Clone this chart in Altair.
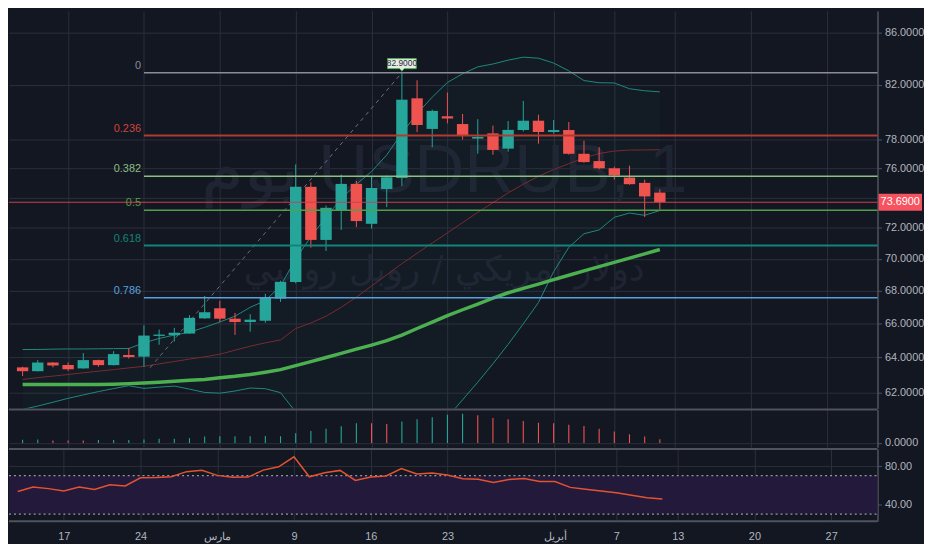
import altair as alt
import pandas as pd

# ---------------- data ----------------
idx = list(range(43))
opens = [63.42, 63.20, 63.70, 63.55, 63.36, 63.84, 63.55, 64.14, 64.04, 65.26, 65.30, 65.40, 66.31, 66.92, 66.29,
         66.09, 66.17, 67.51, 68.53, 74.73, 71.21, 73.16, 74.93, 72.26, 74.58, 75.33, 80.99, 78.77, 79.68, 79.12,
         78.08, 78.45, 77.37, 78.69, 79.36, 78.55, 78.69, 77.01, 76.50, 76.00, 75.36, 75.00, 74.34]
closes = [63.20, 63.70, 63.53, 63.31, 63.84, 63.55, 64.19, 64.02, 65.28, 65.34, 65.45, 66.34, 66.68, 66.29, 66.09,
          66.23, 67.57, 68.55, 74.73, 71.21, 73.32, 74.93, 72.44, 74.65, 75.38, 80.89, 79.05, 80.07, 79.52, 78.31,
          78.20, 77.28, 78.70, 79.36, 78.55, 78.69, 77.01, 76.43, 76.00, 75.51, 74.91, 74.08, 73.69]
highs = [63.46, 63.84, 63.72, 63.70, 64.25, 63.86, 64.36, 64.55, 65.90, 65.64, 65.74, 66.50, 67.67, 67.37, 66.64,
         66.56, 67.81, 68.62, 76.27, 75.04, 73.47, 75.56, 75.13, 75.44, 75.49, 82.90, 82.33, 80.16, 81.42, 79.85,
         79.47, 79.01, 79.33, 80.80, 79.80, 79.41, 79.27, 77.93, 77.47, 76.11, 76.18, 75.22, 74.56]
lows = [62.92, 63.18, 63.42, 63.22, 63.34, 63.46, 63.53, 63.93, 63.46, 64.74, 64.93, 65.38, 66.28, 66.09, 65.32,
        65.51, 66.05, 67.31, 68.45, 70.71, 70.50, 71.86, 72.05, 71.95, 73.36, 74.78, 78.54, 77.47, 79.17, 78.01,
        77.01, 76.94, 77.15, 78.59, 77.72, 78.44, 76.95, 76.38, 75.93, 75.22, 74.87, 72.71, 73.21]

ma_slow = [62.44, 62.44, 62.44, 62.44, 62.44, 62.44, 62.46, 62.49, 62.53, 62.57, 62.62, 62.68, 62.73, 62.83, 62.91,
           63.01, 63.14, 63.29, 63.52, 63.75, 63.99, 64.23, 64.48, 64.72, 64.98, 65.31, 65.70, 66.08, 66.47, 66.83,
           67.18, 67.54, 67.87, 68.14, 68.41, 68.69, 68.96, 69.23, 69.50, 69.77, 70.04, 70.31, 70.59]
bb_mid = [62.73, 62.83, 62.92, 63.01, 63.11, 63.20, 63.29, 63.39, 63.48, 63.62, 63.76, 63.90, 64.03, 64.18, 64.42,
          64.65, 64.85, 65.02, 65.70, 66.03, 66.44, 66.98, 67.60, 68.29, 68.99, 69.69, 70.35, 71.01, 71.67, 72.34,
          73.02, 73.66, 74.32, 74.91, 75.45, 75.91, 76.32, 76.72, 77.03, 77.20, 77.27, 77.28, 77.29]
bb_upper = [64.46, 64.46, 64.48, 64.49, 64.49, 64.50, 64.51, 64.52, 64.85, 65.11, 65.31, 65.48, 65.77, 66.09, 66.44,
            66.98, 67.39, 68.29, 69.98, 71.42, 72.69, 73.92, 74.91, 75.78, 76.93, 78.47, 79.87, 81.08, 82.17, 82.82,
            83.34, 83.56, 83.85, 84.08, 84.00, 83.63, 83.04, 82.31, 82.15, 82.13, 81.70, 81.55, 81.47]
bb_lower = [61.04, 61.23, 61.44, 61.66, 61.85, 62.04, 62.21, 62.37, 62.22, 62.29, 62.35, 62.18, 61.99, 61.95, 62.07,
            62.24, 62.20, 61.98, 60.90, 60.00, 59.40, 59.00, 58.80, 58.70, 58.80, 59.00, 59.40, 60.00, 60.60, 61.58,
            62.57, 63.63, 64.76, 65.98, 67.27, 69.18, 70.73, 71.61, 71.86, 72.69, 72.97, 72.82, 73.14]

hist_vals = [3.3, 3.7, 2.7, 2.7, 2.7, 3.0, 3.0, 3.0, 3.7, 4.3, 4.3, 5.0, 6.7, 7.0, 7.0, 7.0, 7.2, 7.0, 10.0, 12.4,
             14.7, 17.4, 20.4, 20.4, 19.7, 22.4, 24.7, 26.7, 29.4, 30.4, 28.7, 26.0, 24.7, 22.7, 21.0, 20.4, 19.0,
             17.7, 14.7, 12.0, 9.0, 6.7, 4.0]
hist_dir = ["up", "up", "down", "down", "down"] + ["up"] * 18 + ["down", "down"] + ["up"] * 5 + ["down"] * 13

rsi_vals = [53.5, 58.1, 56.5, 54.1, 58.1, 55.5, 60.5, 59.3, 67.8, 68.1, 68.8, 74.2, 75.6, 70.3, 68.3, 68.5, 75.8,
            79.3, 89.7, 68.8, 73.1, 75.5, 65.0, 68.7, 69.7, 77.5, 71.7, 72.8, 70.7, 66.7, 66.3, 62.9, 66.0, 67.0,
            63.9, 63.9, 57.8, 55.8, 54.1, 52.1, 49.7, 47.0, 45.6]

fib_levels = ["0", "0.236", "0.382", "0.5", "0.618", "0.786"]
fib_prices = [82.90, 78.30, 75.45, 73.15, 70.85, 67.57]
fib_colors = ["#8c8c96", "#b23a30", "#8cbf84", "#4fa04a", "#138478", "#5aa0dc"]
fib_label_colors = ["#8c8c96", "#d0453a", "#8cbf84", "#4fa04a", "#138478", "#5aa0dc"]
fib_widths = [1.5, 2, 1.5, 1.5, 2, 1.5]
fib_start = 8

trend_i = [8.4, 25]
trend_p = [63.4, 82.9]

last_price = 73.69
peak_i = 25
peak_price = 82.90

tick_pos = [3, 8, 13, 18, 23, 28, 35, 39, 43, 48, 53]
tick_text = ["17", "24", "مارس", "9", "16", "23", "أبريل", "7", "13", "20", "27"]
price_ticks = [62, 64, 66, 68, 70, 72, 74, 76, 78, 82, 86]

watermark_1 = "يوم USDRUB, 1"
watermark_2 = "دولار أمريكي / روبل روسي"

# ---------------- style ----------------
W = 878
HP, HV, HR = 402, 38, 73
BG = "#131722"
GRID = "#2c303c"
SEP = "#50535e"
TXT = "#b2b5be"
UP = "#26a69a"
DN = "#ef5350"
FONT = "Liberation Sans"

xscale = alt.Scale(domain=[-0.57, 56.02], nice=False, zero=False)
labels_js = "[" + ",".join("'" + t + "'" for t in tick_text) + "]"
pos_js = "[" + ",".join(str(p) for p in tick_pos) + "]"
x_hidden = alt.Axis(values=tick_pos, labels=False, ticks=False, domain=False, grid=True,
                    gridColor=GRID, title=None)
x_bottom = alt.Axis(values=tick_pos, labelExpr=labels_js + "[indexof(" + pos_js + ", datum.value)]",
                    ticks=False, domain=False, grid=True, gridColor=GRID, title=None,
                    labelColor=TXT, labelFontSize=11, labelFont=FONT, labelPadding=9,
                    labelFlush=False, labelOverlap=False)

pscale = alt.Scale(type="log", domain=[61.09, 87.69], nice=False)
p_axis = alt.Axis(orient="right", values=price_ticks,
                  labelExpr="datum.value == 74 ? '' : format(datum.value, '.4f')",
                  grid=True, gridColor=GRID, domain=True, domainColor=SEP, domainWidth=1.5,
                  tickColor=SEP, tickSize=4, labelPadding=3, labelColor=TXT, labelFontSize=11,
                  labelFont=FONT, title=None, labelOverlap=False)


def X(field, axis=x_hidden):
    return alt.X(field, type="quantitative", scale=xscale, axis=axis)


def PY(field):
    return alt.Y(field, type="quantitative", scale=pscale, axis=p_axis)


candles = pd.DataFrame({"i": idx, "o": opens, "c": closes, "h": highs, "l": lows})
candles["dir"] = ["up" if c >= o else "down" for o, c in zip(opens, closes)]
ind = pd.DataFrame({"i": idx, "ma": ma_slow, "mid": bb_mid, "up": bb_upper, "lo": bb_lower})
fib = pd.DataFrame({"lvl": fib_levels, "p": fib_prices, "col": fib_colors, "lcol": fib_label_colors,
                    "w": fib_widths, "start": [fib_start] * len(fib_levels)})
trend = pd.DataFrame({"i": trend_i, "p": trend_p})
last = pd.DataFrame({"p": [last_price], "t": [format(last_price, ".4f")]})
peak = pd.DataFrame({"i": [peak_i], "p": [peak_price], "t": [format(peak_price, ".4f")]})
wm = pd.DataFrame({"t1": [watermark_1], "t2": [watermark_2]})
dircol = alt.Scale(domain=["up", "down"], range=[UP, DN])

# ---------------- price panel ----------------
wm1 = alt.Chart(wm).mark_text(fontSize=70, font=FONT, color="#1f2432", align="center",
                              baseline="middle").encode(x=alt.value(440), y=alt.value(162), text="t1:N")
wm2 = alt.Chart(wm).mark_text(fontSize=36, font="DejaVu Sans", color="#1f2432", align="center",
                              baseline="middle").encode(x=alt.value(440), y=alt.value(262), text="t2:N")

band = alt.Chart(ind).mark_area(color=UP, opacity=0.03, clip=True).encode(
    x=X("i"), y=PY("up"), y2="lo")
upper = alt.Chart(ind).mark_line(color="#1f8a80", strokeWidth=1, clip=True).encode(x=X("i"), y=PY("up"))
lower = alt.Chart(ind).mark_line(color="#1f8a80", strokeWidth=1, clip=True).encode(x=X("i"), y=PY("lo"))
mid = alt.Chart(ind).mark_line(color="#7a2c30", strokeWidth=1, clip=True).encode(x=X("i"), y=PY("mid"))
ma = alt.Chart(ind).mark_line(color="#4caf50", strokeWidth=3.5, clip=True).encode(x=X("i"), y=PY("ma"))

wicks = alt.Chart(candles).mark_rule(strokeWidth=1).encode(
    x=X("i"), y=PY("l"), y2="h", color=alt.Color("dir:N", scale=dircol, legend=None))
bodies = alt.Chart(candles).mark_bar(width=11.5).encode(
    x=X("i"), y=PY("o"), y2="c", color=alt.Color("dir:N", scale=dircol, legend=None))

trend_line = alt.Chart(trend).mark_line(color="#6b6e78", strokeWidth=1, strokeDash=[4, 4]).encode(
    x=X("i"), y=PY("p"))

fib_rules = alt.Chart(fib).mark_rule().encode(
    x=X("start"), x2=alt.value(W), y=PY("p"),
    color=alt.Color("col:N", scale=None), strokeWidth=alt.StrokeWidth("w:Q", scale=None))
fib_text = alt.Chart(fib).mark_text(align="right", baseline="bottom", dx=-3, dy=-2, fontSize=11,
                                    font=FONT).encode(
    x=X("start"), y=PY("p"), text="lvl:N", color=alt.Color("lcol:N", scale=None))

price_line = alt.Chart(last).mark_rule(color="#c8424a", strokeWidth=1).encode(
    x=alt.value(0), x2=alt.value(W), y=PY("p"))
tag_box = alt.Chart(last).mark_point(shape="M-1,-0.386L1,-0.386L1,0.386L-1,0.386Z", size=1936, filled=True,
                                     color="#f7525f", opacity=1).encode(x=alt.value(W + 23), y=PY("p"))
tag_txt = alt.Chart(last).mark_text(color="white", fontSize=11, font=FONT, align="center",
                                    baseline="middle").encode(x=alt.value(W + 23), y=PY("p"), text="t:N")

peak_box = alt.Chart(peak).mark_point(
    shape="M-1,-0.5L1,-0.5L1,0.2L0.15,0.2L0,0.38L-0.15,0.2L-1,0.2Z", size=841, filled=True,
    fill="#e6ebe4", stroke="#4caf50", strokeWidth=1, opacity=1, yOffset=-7).encode(x=X("i"), y=PY("p"))
peak_txt = alt.Chart(peak).mark_text(fontSize=8.5, font=FONT, color="#2a2e39", baseline="middle",
                                     yOffset=-9.5).encode(x=X("i"), y=PY("p"), text="t:N")

price_panel = alt.layer(
    wm1, wm2, band, upper, lower, mid, ma, trend_line, wicks, bodies, fib_rules, fib_text,
    price_line, tag_box, tag_txt, peak_box, peak_txt
).properties(width=W, height=HP)

# ---------------- histogram panel ----------------
hist = pd.DataFrame({"i": idx, "v": hist_vals, "d": hist_dir})
v_axis = alt.Axis(orient="right", values=[0], format=".4f", grid=True, gridColor=GRID, domain=True,
                  domainColor=SEP, domainWidth=1.5, tickColor=SEP, tickSize=4, labelPadding=3,
                  labelColor=TXT, labelFontSize=11, labelFont=FONT, title=None)
vscale = alt.Scale(domain=[-4.3, 34.7], nice=False, zero=False)
one = pd.DataFrame({"a": [0]})
hist_bars = alt.Chart(hist).mark_bar(width=1.1).encode(
    x=X("i"), y=alt.Y("v:Q", scale=vscale, axis=v_axis), y2=alt.datum(0),
    color=alt.Color("d:N", scale=alt.Scale(domain=["up", "down"], range=["#1b6b65", "#6e2a30"]), legend=None))
sep_top_v = alt.Chart(one).mark_rule(color=SEP, strokeWidth=2).encode(
    x=alt.value(0), x2=alt.value(W), y=alt.value(0))
hist_panel = alt.layer(hist_bars, sep_top_v).properties(width=W, height=HV)

# ---------------- RSI panel ----------------
rsi = pd.DataFrame({"i": idx, "r": rsi_vals})
rscale = alt.Scale(domain=[22.4, 97.7], nice=False, zero=False)
r_axis = alt.Axis(orient="right", values=[40, 80], format=".2f", grid=True, gridColor=GRID, domain=True,
                  domainColor=SEP, domainWidth=1.5, tickColor=SEP, tickSize=4, labelPadding=3,
                  labelColor=TXT, labelFontSize=11, labelFont=FONT, title=None)
bandr = pd.DataFrame({"hi": [70], "lo": [30]})
levels = pd.DataFrame({"y": [70, 30]})
rsi_band = alt.Chart(bandr).mark_rect(color="#22193b").encode(
    x=alt.value(0), x2=alt.value(W), y=alt.Y("hi:Q", scale=rscale, axis=r_axis), y2="lo:Q")
rsi_lv = alt.Chart(levels).mark_rule(color="#9598a1", strokeWidth=1.2, strokeDash=[2, 3]).encode(
    x=alt.value(0), x2=alt.value(W), y=alt.Y("y:Q", scale=rscale, axis=r_axis))
rsi_line = alt.Chart(rsi).mark_line(color="#e4532f", strokeWidth=1.5).encode(
    x=X("i", x_bottom), y=alt.Y("r:Q", scale=rscale, axis=r_axis))
sep_top_r = alt.Chart(one).mark_rule(color=SEP, strokeWidth=2).encode(
    x=alt.value(0), x2=alt.value(W), y=alt.value(0))
sep_bot_r = alt.Chart(one).mark_rule(color=SEP, strokeWidth=2).encode(
    x=alt.value(0), x2=alt.value(W), y=alt.value(HR))
rsi_panel = alt.layer(rsi_band, rsi_lv, rsi_line, sep_top_r, sep_bot_r).properties(width=W, height=HR)

chart = alt.vconcat(price_panel, hist_panel, rsi_panel, spacing=0).properties(
    padding={"left": 0, "top": 0, "right": 0, "bottom": 0}
).configure(background=BG).configure_view(stroke=None)

chart.save("out.html", embed_options={"renderer": "svg", "actions": False})
